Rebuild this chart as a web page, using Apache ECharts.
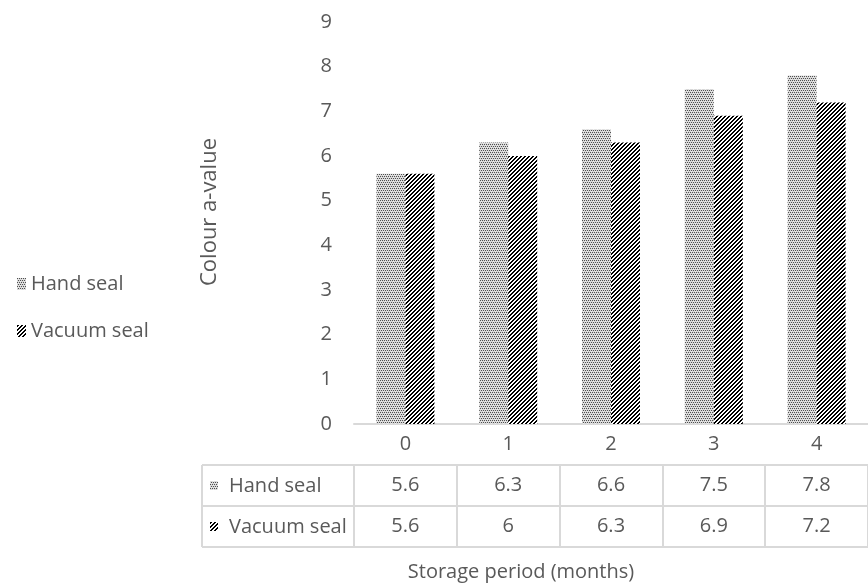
<!DOCTYPE html>
<html>
<head>
<meta charset="utf-8">
<script src="https://cdn.jsdelivr.net/npm/echarts@6/dist/echarts.min.js"></script>
<style>
html,body{margin:0;padding:0;background:#fff;}
#chart{width:868px;height:588px;}
</style>
</head>
<body>
<div id="chart"></div>
<script>
// ---- data ----
var categories = ['0', '1', '2', '3', '4'];
var seriesNames = ['Hand seal', 'Vacuum seal'];
var handSeal = [5.6, 6.3, 6.6, 7.5, 7.8];
var vacuumSeal = [5.6, 6, 6.3, 6.9, 7.2];
var yTicks = [0, 1, 2, 3, 4, 5, 6, 7, 8, 9];
var yTitle = 'Colour a-value';
var xTitle = 'Storage period (months)';

// ---- patterns ----
function makeDots() {
  var c = document.createElement('canvas');
  c.width = 4; c.height = 4;
  var g = c.getContext('2d');
  g.fillStyle = '#d8d8d8'; g.fillRect(0, 0, 4, 4);
  g.fillStyle = '#505050';
  g.fillRect(0, 0, 1, 1); g.fillRect(2, 0, 1, 1);
  g.fillRect(1, 2, 1, 1); g.fillRect(3, 2, 1, 1);
  g.fillStyle = '#ededed';
  g.fillRect(1, 1, 1, 1); g.fillRect(3, 3, 1, 1);
  return c;
}
function makeStripes() {
  var c = document.createElement('canvas');
  c.width = 4; c.height = 4;
  var g = c.getContext('2d');
  g.fillStyle = '#ffffff'; g.fillRect(0, 0, 4, 4);
  for (var x = 0; x < 4; x++) for (var y = 0; y < 4; y++) {
    if ((x + y) % 4 < 2) { g.fillStyle = '#000000'; g.fillRect(x, y, 1, 1); }
  }
  return c;
}
var dotPattern = { image: makeDots(), repeat: 'repeat' };
var stripePattern = { image: makeStripes(), repeat: 'repeat' };
var patterns = [dotPattern, stripePattern];

var FONT = 'Open Sans';
var TXT = '#595959';
var LINE = '#d9d9d9';
var FS = 20;

var chart = echarts.init(document.getElementById('chart'), null, { renderer: 'canvas' });

function tableAxis(offset, values, showLabel) {
  return {
    type: 'category',
    data: categories,
    position: 'bottom',
    offset: offset,
    boundaryGap: true,
    axisLine: { show: true, lineStyle: { color: LINE, width: 2 } },
    axisTick: { show: values !== null, length: 41, inside: false, lineStyle: { color: LINE, width: 2 } },
    axisLabel: {
      show: showLabel,
      margin: 10,
      fontSize: FS, fontFamily: FONT, color: TXT,
      formatter: function (v, i) { return values ? String(values[i]) : v; }
    },
    splitLine: { show: false }
  };
}

var headerGraphics = [];
[465, 506, 547].forEach(function (y) {
  headerGraphics.push({ type: 'line', shape: { x1: 202, y1: y, x2: 354, y2: y }, style: { stroke: LINE, lineWidth: 2 } });
});
headerGraphics.push({ type: 'line', shape: { x1: 202, y1: 465, x2: 202, y2: 547 }, style: { stroke: LINE, lineWidth: 2 } });
seriesNames.forEach(function (n, i) {
  var cy = 486 + i * 41;
  headerGraphics.push({ type: 'rect', shape: { x: 210, y: cy - 5, width: 8, height: 9 }, style: { fill: patterns[i] } });
  headerGraphics.push({ type: 'text', x: 229, y: cy, style: { text: n, font: FS + 'px "' + FONT + '"', fill: TXT, textAlign: 'left', textVerticalAlign: 'middle' } });
});
headerGraphics.push({ type: 'text', x: 521, y: 572, style: { text: xTitle, font: '20px "' + FONT + '"', fill: TXT, textAlign: 'center', textVerticalAlign: 'middle' } });

var option = {
  animation: false,
  backgroundColor: '#fff',
  textStyle: { fontFamily: FONT },
  grid: { left: 354, right: -11, top: 22, bottom: 164, containLabel: false },
  legend: {
    orient: 'vertical', left: 12, top: 269,
    itemWidth: 9, itemHeight: 12, itemGap: 27,
    icon: 'rect',
    data: seriesNames,
    textStyle: { fontSize: FS, color: TXT, fontFamily: FONT }
  },
  xAxis: [
    tableAxis(0, null, true),
    tableAxis(41, handSeal, true),
    tableAxis(82, vacuumSeal, true),
    (function () { var a = tableAxis(123, null, false); a.axisTick = { show: false }; return a; })()
  ],
  yAxis: {
    type: 'value', min: yTicks[0], max: yTicks[yTicks.length - 1], interval: 1,
    axisLine: { show: false }, axisTick: { show: false }, splitLine: { show: false },
    axisLabel: { margin: 22, fontSize: FS, color: TXT, fontFamily: FONT },
    name: yTitle, nameLocation: 'middle', nameRotate: 90, nameGap: 133,
    nameTextStyle: { fontSize: 22, color: TXT, fontFamily: FONT, padding: [0, 0, 0, 22] }
  },
  series: [
    { name: seriesNames[0], type: 'bar', data: handSeal, barWidth: 29, barGap: '0%', itemStyle: { color: dotPattern } },
    { name: seriesNames[1], type: 'bar', data: vacuumSeal, barWidth: 29, barGap: '0%', itemStyle: { color: stripePattern } }
  ],
  graphic: headerGraphics
};
chart.setOption(option);
</script>
</body>
</html>
